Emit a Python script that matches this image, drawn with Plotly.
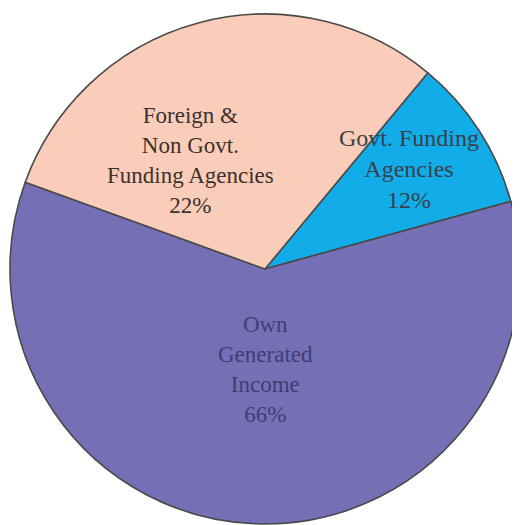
import plotly.graph_objects as go

labels = ["Govt. Funding Agencies", "Own Generated Income", "Foreign & Non Govt. Funding Agencies"]
slice_shares = [9.7, 59.8, 30.5]
printed_pct = ["12%", "66%", "22%"]
label_lines = [
    ["Govt. Funding", "Agencies"],
    ["Own", "Generated", "Income"],
    ["Foreign &", "Non Govt.", "Funding Agencies"],
]
colors = ["#12ACE8", "#7570B6", "#F9CDB9"]

W, H = 520, 525
OX, OY = 8, 7.5  # page body offset
fig = go.Figure(go.Pie(
    labels=labels,
    values=slice_shares,
    sort=False,
    direction="clockwise",
    rotation=39.7,
    marker=dict(colors=colors, line=dict(color="#4a4a4a", width=1.6)),
    textinfo="none",
    hoverinfo="label+percent",
    showlegend=False,
    domain=dict(x=[(10 - OX) / W, (520 - OX) / W],
                y=[1 - (523.5 - OY) / H, 1 - (13.5 - OY) / H]),
))

# label placement (pixel centres -> paper)
label_pos = [(409, 168), (265, 369), (190, 160)]
label_font = [
    dict(family="Liberation Serif", size=24, color="#3b3f4c"),
    dict(family="Liberation Serif", size=23, color="#3e3e72"),
    dict(family="Liberation Serif", size=23, color="#3d312d"),
]
for lines, pct, (px, py), f in zip(label_lines, printed_pct, label_pos, label_font):
    fig.add_annotation(
        x=(px - OX) / W, y=1 - (py - OY) / H, xref="paper", yref="paper",
        text="<br>".join(lines + [pct]), showarrow=False,
        font=f, align="center", xanchor="center", yanchor="middle",
    )

fig.update_layout(
    width=W, height=H,
    margin=dict(l=0, r=0, t=0, b=0),
    paper_bgcolor="white", plot_bgcolor="white",
)
fig.write_html("out.html")
